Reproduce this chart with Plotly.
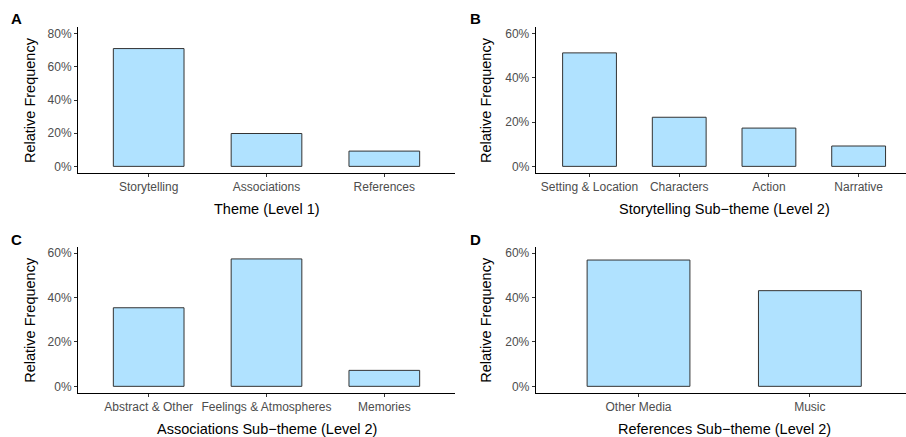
import plotly.graph_objects as go

# ---- data ----
themes = ["Storytelling", "Associations", "References"]
theme_freq = [0.71, 0.198, 0.092]

story_sub = ["Setting & Location", "Characters", "Action", "Narrative"]
story_freq = [0.513, 0.222, 0.173, 0.092]

assoc_sub = ["Abstract & Other", "Feelings & Atmospheres", "Memories"]
assoc_freq = [0.354, 0.574, 0.072]

ref_sub = ["Other Media", "Music"]
ref_freq = [0.569, 0.431]

y_ticks_a = [0, 0.2, 0.4, 0.6, 0.8]
y_ticks_bcd = [0, 0.2, 0.4, 0.6]

W, H = 906, 437
FILL = "#B0E2FF"
EDGE = "#333333"
FONT = "Liberation Sans, Arial, Helvetica, sans-serif"
TICK_SIZE = 12
TITLE_SIZE = 14.5


def px_x(p):
    return p / W


def px_y(p):
    return 1 - p / H


panels = [
    dict(cats=themes, vals=theme_freq, xd=(78, 455), yd=(27, 173), xr=[-0.6, 2.6],
         yr=[-0.04, 0.84], ticks=y_ticks_a, xt="Theme (Level 1)", lab="A",
         labpos=(16, 19), yt_x=30, xt_pos=(266.5, 209)),
    dict(cats=story_sub, vals=story_freq, xd=(535.7, 906), yd=(27, 173), xr=[-0.6, 3.528],
         yr=[-0.03, 0.63], ticks=y_ticks_bcd, xt="Storytelling Sub\u2212theme (Level 2)", lab="B",
         labpos=(475, 19), yt_x=486, xt_pos=(724, 209)),
    dict(cats=assoc_sub, vals=assoc_freq, xd=(78, 455), yd=(246.5, 393), xr=[-0.6, 2.6],
         yr=[-0.03, 0.63], ticks=y_ticks_bcd, xt="Associations Sub\u2212theme (Level 2)", lab="C",
         labpos=(16, 239), yt_x=30, xt_pos=(266.5, 428.5)),
    dict(cats=ref_sub, vals=ref_freq, xd=(535.7, 906), yd=(246.5, 393), xr=[-0.6, 1.561],
         yr=[-0.03, 0.63], ticks=y_ticks_bcd, xt="References Sub\u2212theme (Level 2)", lab="D",
         labpos=(475, 239), yt_x=486, xt_pos=(724, 428.5)),
]

fig = go.Figure()
layout = dict(
    width=W, height=H, margin=dict(l=0, r=0, t=0, b=0),
    paper_bgcolor="white", plot_bgcolor="white", showlegend=False,
    font=dict(family=FONT, color="#000000"),
    bargap=0.4,
)
annotations = []

for i, p in enumerate(panels):
    n = "" if i == 0 else str(i + 1)
    fig.add_trace(go.Bar(
        x=p["cats"], y=p["vals"], xaxis="x" + n, yaxis="y" + n,
        marker=dict(color=FILL, line=dict(color=EDGE, width=1)),
        width=0.6, hoverinfo="x+y",
    ))
    layout["xaxis" + n] = dict(
        domain=[px_x(p["xd"][0]), px_x(p["xd"][1])], anchor="y" + n,
        type="category", range=p["xr"], showline=True, linecolor="#000000", linewidth=1,
        ticks="outside", ticklen=3, tickcolor="#333333", tickwidth=1,
        tickfont=dict(size=TICK_SIZE, color="#4D4D4D", family=FONT),
        showgrid=False, zeroline=False, fixedrange=True,
    )
    layout["yaxis" + n] = dict(
        domain=[px_y(p["yd"][1]), px_y(p["yd"][0])], anchor="x" + n,
        range=p["yr"], tickvals=p["ticks"], tickformat=".0%",
        showline=True, linecolor="#000000", linewidth=1,
        ticks="outside", ticklen=3, tickcolor="#333333", tickwidth=1,
        tickfont=dict(size=TICK_SIZE, color="#4D4D4D", family=FONT),
        showgrid=False, zeroline=False, fixedrange=True,
    )
    ymid = (p["yd"][0] + p["yd"][1]) / 2
    annotations.append(dict(
        text="Relative Frequency", x=px_x(p["yt_x"]), y=px_y(ymid), xref="paper", yref="paper",
        showarrow=False, textangle=-90, font=dict(size=TITLE_SIZE, color="#000000", family=FONT),
        xanchor="center", yanchor="middle",
    ))
    annotations.append(dict(
        text=p["xt"], x=px_x(p["xt_pos"][0]), y=px_y(p["xt_pos"][1]), xref="paper", yref="paper",
        showarrow=False, font=dict(size=TITLE_SIZE, color="#000000", family=FONT),
        xanchor="center", yanchor="middle",
    ))
    annotations.append(dict(
        text="<b>" + p["lab"] + "</b>", x=px_x(p["labpos"][0]), y=px_y(p["labpos"][1]),
        xref="paper", yref="paper", showarrow=False,
        font=dict(size=15, color="#000000", family=FONT),
        xanchor="center", yanchor="middle",
    ))

layout["annotations"] = annotations
fig.update_layout(**layout)
fig.write_html(
    "out.html",
    config={"displayModeBar": False},
    post_script="document.body.style.margin='0';document.body.style.padding='0';",
)
